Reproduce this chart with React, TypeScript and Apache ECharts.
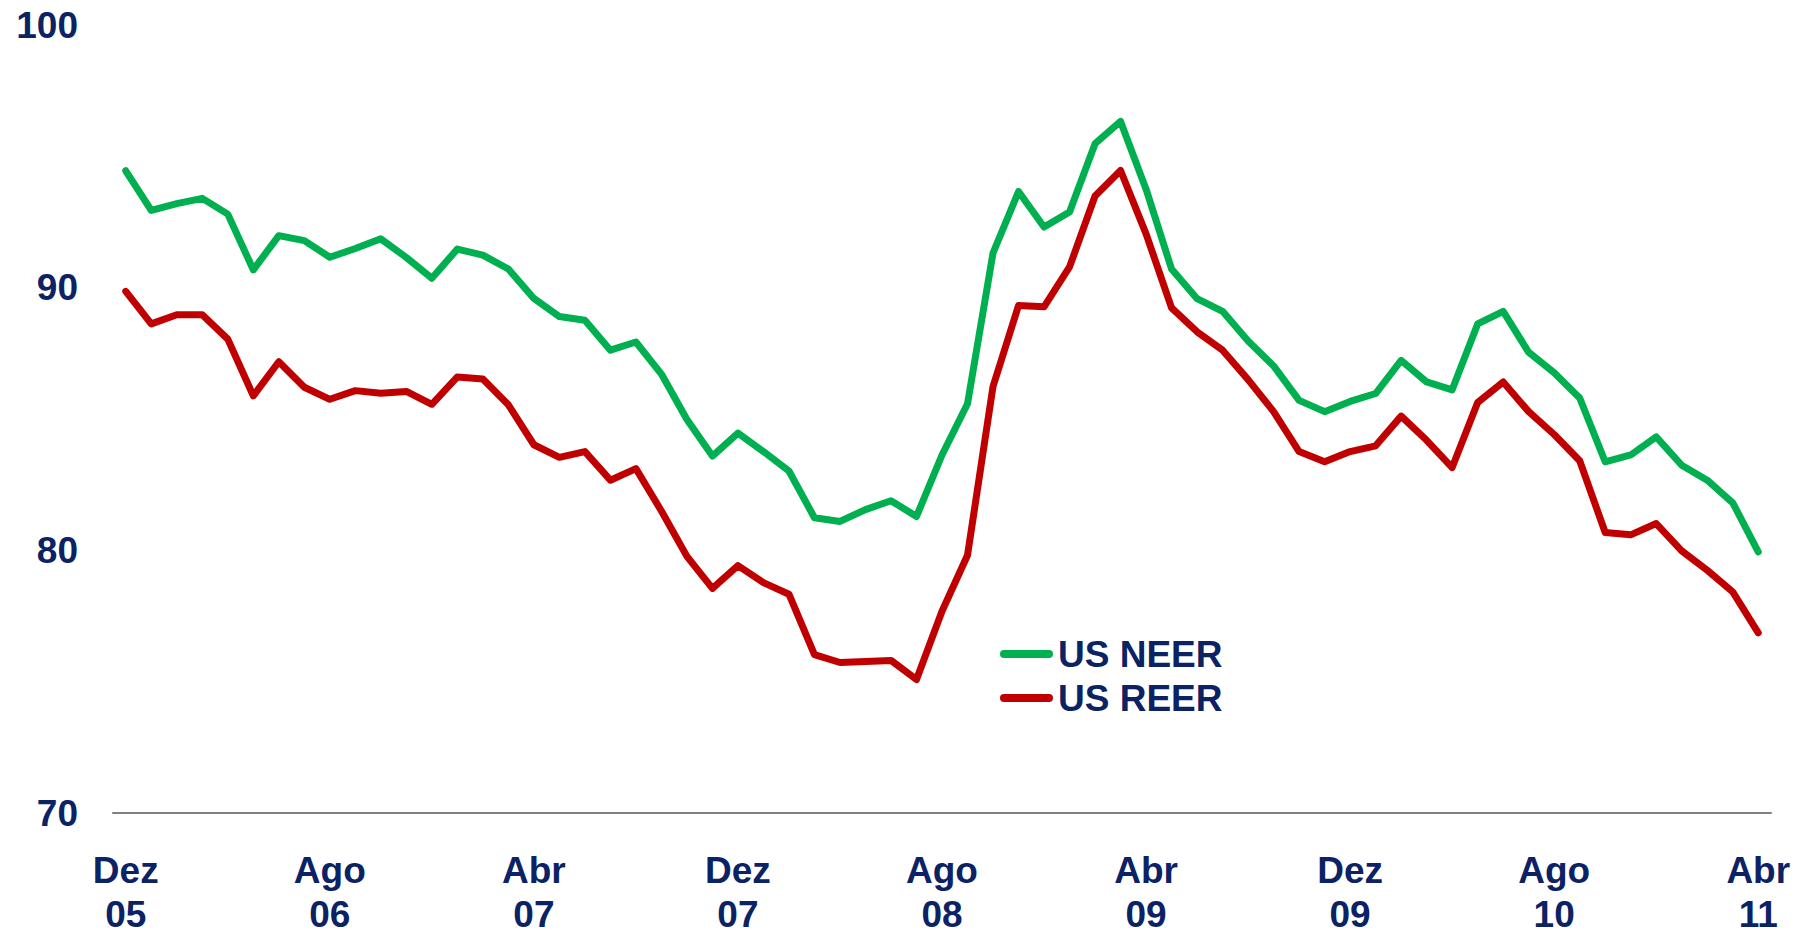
import React, { useEffect, useRef } from "react";
import * as echarts from "echarts";

const monthNames = ["Jan", "Fev", "Mar", "Abr", "Mai", "Jun", "Jul", "Ago", "Set", "Out", "Nov", "Dez"];
const startYear = 2005;
const startMonth = 11; // Dez
const pointCount = 65;

const categories: string[] = [];
for (let i = 0; i < pointCount; i++) {
  const m = (startMonth + i) % 12;
  const y = startYear + Math.floor((startMonth + i) / 12);
  categories.push(`${monthNames[m]}\n${String(y % 100).padStart(2, "0")}`);
}

const usNeer = [
  94.45, 92.94, 93.2, 93.4, 92.8, 90.68, 91.98, 91.79, 91.16, 91.49,
  91.86, 91.15, 90.36, 91.47, 91.24, 90.71, 89.59, 88.9, 88.76, 87.62,
  87.93, 86.71, 84.98, 83.59, 84.46, 83.76, 83.02, 81.24, 81.1, 81.55,
  81.89, 81.29, 83.63, 85.58, 91.32, 93.66, 92.31, 92.88, 95.48, 96.33,
  93.75, 90.71, 89.58, 89.1, 87.97, 87.02, 85.71, 85.28, 85.67, 85.97,
  87.23, 86.41, 86.11, 88.62, 89.1, 87.54, 86.76, 85.8, 83.37, 83.63,
  84.32, 83.24, 82.67, 81.81, 79.94,
];

const usReer = [
  89.86, 88.62, 88.97, 88.97, 88.04, 85.88, 87.18, 86.21, 85.75, 86.08,
  85.98, 86.05, 85.56, 86.6, 86.52, 85.54, 84.02, 83.54, 83.76, 82.67,
  83.11, 81.5, 79.77, 78.55, 79.42, 78.77, 78.33, 76.03, 75.73, 75.77,
  75.81, 75.08, 77.68, 79.81, 86.24, 89.32, 89.27, 90.79, 93.49, 94.46,
  92.05, 89.23, 88.32, 87.62, 86.5, 85.28, 83.76, 83.37, 83.76, 83.98,
  85.11, 84.19, 83.15, 85.63, 86.41, 85.28, 84.41, 83.41, 80.68, 80.59,
  81.02, 79.98, 79.24, 78.42, 76.86,
];

const seriesNames = ["US NEER", "US REER"];
const yTicks = { min: 70, max: 100, interval: 10 };

const NAVY = "#0B2265";
const FONT = "'Liberation Sans', Arial, sans-serif";
const legendIcon = "path://M4,0 H49 A4,4 0 0 1 49,8 H4 A4,4 0 0 1 4,0 Z";

export default function App() {
  const ref = useRef<HTMLDivElement>(null);

  useEffect(() => {
    if (!ref.current) return;
    const chart = echarts.init(ref.current, undefined, { renderer: "svg" });
    chart.setOption({
      animation: false,
      backgroundColor: "#ffffff",
      grid: { left: 113, right: 32, top: 25, bottom: 116, containLabel: false },
      legend: {
        orient: "vertical",
        left: 995,
        top: 629,
        itemWidth: 53,
        itemHeight: 8,
        itemGap: 4,
        icon: legendIcon,
        data: seriesNames,
        textStyle: {
          color: NAVY,
          fontFamily: FONT,
          fontWeight: "bold",
          fontSize: 37,
          lineHeight: 40,
        },
      },
      xAxis: {
        type: "category",
        data: categories,
        boundaryGap: true,
        axisLine: { show: true, lineStyle: { color: "#808080", width: 2 } },
        axisTick: { show: false },
        axisLabel: {
          interval: 7,
          margin: 35,
          color: NAVY,
          fontFamily: FONT,
          fontWeight: "bold",
          fontSize: 37,
          lineHeight: 44,
        },
        splitLine: { show: false },
      },
      yAxis: {
        type: "value",
        min: yTicks.min,
        max: yTicks.max,
        interval: yTicks.interval,
        axisLine: { show: false },
        axisTick: { show: false },
        splitLine: { show: false },
        axisLabel: {
          margin: 35,
          color: NAVY,
          fontFamily: FONT,
          fontWeight: "bold",
          fontSize: 37,
        },
      },
      series: [
        {
          name: seriesNames[0],
          type: "line",
          data: usNeer,
          symbol: "none",
          color: "#00B050",
          lineStyle: { color: "#00B050", width: 7, cap: "round", join: "round" },
        },
        {
          name: seriesNames[1],
          type: "line",
          data: usReer,
          symbol: "none",
          color: "#C00000",
          lineStyle: { color: "#C00000", width: 7, cap: "round", join: "round" },
        },
      ],
    });
    return () => chart.dispose();
  }, []);

  return (
    <div
      ref={ref}
      style={{ position: "absolute", left: 0, top: 0, width: 1803, height: 936 }}
    />
  );
}
